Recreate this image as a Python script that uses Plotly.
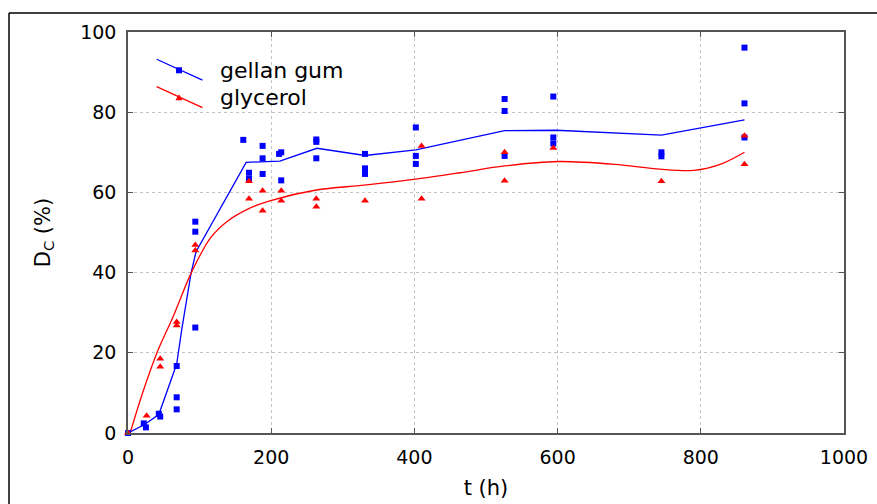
import plotly.graph_objects as go

# ---- data: gellan gum (blue squares) ----
gellan_t = [0, 22, 25, 43, 45, 68, 68, 68, 94, 94, 94, 161, 169, 169, 188, 188, 188,
            211, 214, 214, 263, 263, 263, 331, 331, 331, 402, 402, 402,
            526, 526, 526, 594, 594, 594, 745, 745, 861, 861, 861]
gellan_d = [0, 2.4, 1.4, 4.8, 4.1, 16.7, 8.9, 5.9, 52.7, 50.2, 26.3, 73.1, 64.9, 63.4,
            71.6, 68.5, 64.6, 69.6, 70.0, 63.0, 73.2, 72.6, 68.5, 69.6, 66.0, 64.6,
            76.2, 69.1, 67.1, 83.3, 80.3, 69.1, 83.9, 73.7, 72.2, 70.0, 69.0,
            96.1, 82.2, 73.7]

# fitted line for gellan gum
gellan_fit_t = [0, 22, 43, 68, 75, 88, 95, 165, 212, 264, 331, 402, 526, 598, 745, 861]
gellan_fit_d = [0, 2.0, 4.6, 17.2, 25.7, 39.8, 45.2, 67.5, 67.8, 71.0, 69.2, 70.6,
                75.4, 75.5, 74.3, 78.1]

# ---- data: glycerol (red triangles) ----
glycerol_t = [0, 26, 45, 45, 68, 68, 94, 94, 169, 169, 188, 188, 214, 214, 263, 263,
              331, 410, 410, 526, 526, 594, 745, 861, 861]
glycerol_d = [0, 4.3, 18.5, 16.5, 27.7, 26.8, 46.9, 45.5, 62.8, 58.4, 60.4, 55.4,
              60.4, 57.9, 58.4, 56.4, 57.9, 71.6, 58.4, 70.0, 62.9, 71.1, 62.8,
              74.1, 67.0]

# fitted curve for glycerol
glycerol_fit_t = [3, 20, 42, 63, 88, 115, 138, 168, 198, 263, 330, 402, 464, 526,
                  601, 680, 743, 790, 830, 861]
glycerol_fit_d = [0, 9.8, 20.7, 29.0, 39.8, 48.6, 52.7, 55.9, 57.9, 60.6, 61.8, 63.3,
                  64.9, 66.6, 67.7, 67.0, 65.8, 65.5, 67.2, 70.0]

x_ticks = [0, 200, 400, 600, 800, 1000]
y_ticks = [0, 20, 40, 60, 80, 100]

BLUE = "#0000ff"
RED = "#ff0000"
FONT = "DejaVu Sans"

fig = go.Figure()
fig.add_trace(go.Scatter(x=gellan_fit_t, y=gellan_fit_d, mode="lines",
                         line=dict(color=BLUE, width=1.3), showlegend=False,
                         cliponaxis=False))
fig.add_trace(go.Scatter(x=glycerol_fit_t, y=glycerol_fit_d, mode="lines",
                         line=dict(color=RED, width=1.3, shape="spline", smoothing=0.9),
                         showlegend=False, cliponaxis=False))
fig.add_trace(go.Scatter(x=gellan_t, y=gellan_d, mode="markers",
                         marker=dict(symbol="square", size=6, color=BLUE),
                         showlegend=False, cliponaxis=False))
fig.add_trace(go.Scatter(x=glycerol_t, y=glycerol_d, mode="markers",
                         marker=dict(symbol="triangle-up", size=7, color=RED),
                         showlegend=False, cliponaxis=False))

axis_common = dict(
    showline=True, linecolor="#555555", linewidth=1.5, mirror="ticks",
    ticks="inside", ticklen=5, tickcolor="#555555", tickwidth=1,
    showgrid=True, gridcolor="#c4c4c4", gridwidth=1, griddash="3px,3px",
    zeroline=False, tickfont=dict(family=FONT, size=19, color="#000000"),
    ticklabelstandoff=6, automargin=False,
)

fig.update_xaxes(range=[0, 1000], tickvals=x_ticks,
                 title=dict(text="t (h)", font=dict(family=FONT, size=21, color="#000"),
                            standoff=14),
                 **axis_common)
fig.update_yaxes(range=[0, 100], tickvals=y_ticks,
                 title=dict(text="D<sub>C</sub> (%)",
                            font=dict(family=FONT, size=21, color="#000"), standoff=24),
                 **axis_common)

# outer frame (top and left edges)
shapes = [
    dict(type="line", xref="paper", yref="paper", x0=-0.1662, x1=1.06, y0=1.0474, y1=1.0474,
         line=dict(color="#000", width=1.5)),
    dict(type="line", xref="paper", yref="paper", x0=-0.1662, x1=-0.1662, y0=1.0474, y1=-0.2,
         line=dict(color="#000", width=1.5)),
    # legend glyphs
    dict(type="line", xref="paper", yref="paper", x0=0.040, x1=0.104, y0=0.932, y1=0.880,
         line=dict(color=BLUE, width=1.3)),
    dict(type="line", xref="paper", yref="paper", x0=0.040, x1=0.104, y0=0.8636, y1=0.8112,
         line=dict(color=RED, width=1.3)),
    dict(type="rect", xref="paper", yref="paper", x0=0.0670, x1=0.0754, y0=0.8970, y1=0.9120,
         line=dict(width=0), fillcolor=BLUE),
    dict(type="path", xref="paper", yref="paper",
         path="M 0.0663 0.8297 L 0.0761 0.8297 L 0.0712 0.8447 Z",
         line=dict(width=0), fillcolor=RED),
]

annotations = [
    dict(text="gellan gum", xref="paper", yref="paper", x=0.1253, y=0.9045,
         xanchor="left", yanchor="middle", showarrow=False,
         font=dict(family=FONT, size=22, color="#000")),
    dict(text="glycerol", xref="paper", yref="paper", x=0.1253, y=0.8372,
         xanchor="left", yanchor="middle", showarrow=False,
         font=dict(family=FONT, size=22, color="#000")),
]

fig.update_layout(
    width=877, height=504,
    margin=dict(l=128, r=33, t=32, b=71),
    paper_bgcolor="#ffffff", plot_bgcolor="#ffffff",
    shapes=shapes, annotations=annotations, showlegend=False,
    font=dict(family=FONT),
)

fig.write_html("out.html")
